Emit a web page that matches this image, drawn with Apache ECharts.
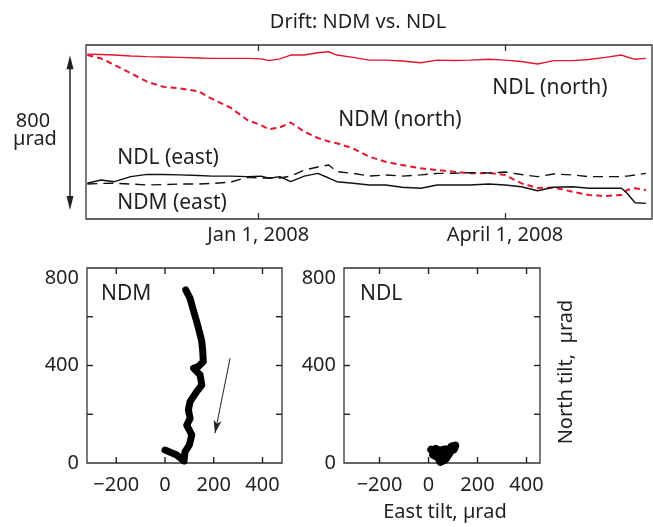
<!DOCTYPE html>
<html>
<head>
<meta charset="utf-8">
<script src="https://cdn.jsdelivr.net/npm/echarts@6/dist/echarts.min.js"></script>
<style>
html,body{margin:0;padding:0;background:#fff;}
#c{width:653px;height:527px;}
</style>
</head>
<body>
<div id="c"></div>
<script>
// ---- Top panel: drift time series (µrad, arbitrary vertical offsets) ----
const dates = ['2007-10-30','2007-11-04','2007-11-09','2007-11-15','2007-11-21','2007-11-27','2007-12-03','2007-12-10','2007-12-15','2007-12-22','2007-12-28','2008-01-02','2008-01-05','2008-01-09','2008-01-13','2008-01-18','2008-01-23','2008-01-27','2008-01-30','2008-02-05','2008-02-11','2008-02-17','2008-02-23','2008-03-01','2008-03-07','2008-03-13','2008-03-19','2008-03-26','2008-04-01','2008-04-07','2008-04-13','2008-04-19','2008-04-26','2008-05-02','2008-05-08','2008-05-14','2008-05-16','2008-05-19','2008-05-23'];
const ndlNorth = [853,851,848,843,840,838,836,833,831,831,831,828,819,828,848,848,860,865,848,836,822,822,817,808,822,820,822,826,822,815,802,819,819,825,836,848,838,826,831];
const ndmNorth = [848,831,797,754,710,684,676,660,621,574,512,486,464,474,499,452,419,401,392,365,322,296,279,262,253,245,236,238,228,185,160,163,141,124,119,124,150,159,150];
const ndlEast = [185,202,193,219,231,230,228,225,222,222,219,222,211,219,193,222,236,212,193,185,176,176,164,159,176,176,176,181,176,167,146,164,167,159,159,159,133,84,81];
const ndmEast = [181,184,185,181,176,178,181,181,184,191,216,212,212,212,222,253,269,279,245,236,222,228,222,228,236,236,240,238,243,230,219,233,228,219,219,219,222,228,236];
const tickDates = ['2008-01-01','2008-04-01'];
const tickLabels = ['Jan 1, 2008','April 1, 2008'];
const scaleBar = [47, 847]; // 800 µrad scale arrow

// ---- Bottom panels: north vs east tilt (µrad) ----
const tiltTicksX = [-200, 0, 200, 400];
const tiltTicksY = [0, 200, 400, 600, 800];
const ndmEastTilt  = [85,103,116,130,141,151,155,157,137,117,144,151,130,103,96,103,89,110,100,82,78,48,0];
const ndmNorthTilt = [710,675,628,580,539,498,457,416,396,389,361,320,293,252,218,183,155,115,74,46,8,33,53];
const ndlEastTilt  = [11,31,19,40,48,68,89,93,109,103,64,44,30,48,58];
const ndlNorthTilt = [55,46,34,22,5,14,46,67,71,55,55,50,58,22,35];
const driftArrowFrom = [267, 430];
const driftArrowTo = [205, 122];

const FONT = '"Noto Sans", "Open Sans", sans-serif';
const TXT = '#231f20';
const RED = '#e3152f';
const BLK = '#111111';

const toTs = s => Date.UTC(+s.slice(0, 4), +s.slice(5, 7) - 1, +s.slice(8, 10));
const HOUR = 3600e3;
const tickTs = tickDates.map(toTs);
const pairs = (xs, ys) => xs.map((x, i) => [x, ys[i]]);
const minusFmt = v => String(v).replace('-', '\u2212');

const chart = echarts.init(document.getElementById('c'), null, {renderer: 'canvas'});

const tickCommon = {show: true, inside: true, length: 6, lineStyle: {color: '#333', width: 1.3}};
const gridCommon = {show: true, borderColor: '#333', borderWidth: 1.3, backgroundColor: 'transparent', containLabel: false};
const noLine = {show: false, onZero: false};

const tiltRange = [[-320, 480], [-345, 455]];

function tiltXAxis(grid, range) {
  return {
    type: 'value', gridIndex: grid, min: range[0], max: range[1], position: 'bottom',
    axisLine: noLine, splitLine: {show: false}, axisTick: {show: false},
    axisLabel: {show: true, customValues: tiltTicksX, formatter: minusFmt, color: TXT, fontSize: 20, fontFamily: FONT, margin: 12}
  };
}
function tiltYAxis(grid) {
  return {
    type: 'value', gridIndex: grid, min: 0, max: 800, interval: 200, position: 'left',
    axisLine: noLine, splitLine: {show: false}, axisTick: {show: false},
    axisLabel: {show: true, formatter: v => (v % 400 === 0 ? String(v) : ''), color: TXT, fontSize: 20, fontFamily: FONT, margin: 8, verticalAlignMaxLabel: 'top'}
  };
}
const timeXAxis = pos => ({
  type: 'value', gridIndex: 0, position: pos,
  min: toTs('2007-10-29') + 12 * HOUR, max: toTs('2008-05-25') + 5 * HOUR,
  axisLine: noLine, splitLine: {show: false},
  axisTick: Object.assign({}, tickCommon, {customValues: tickTs}),
  axisLabel: pos === 'bottom' ? {
    show: true, customValues: tickTs, color: TXT, fontSize: 20, fontFamily: FONT, margin: 6,
    formatter: v => { const i = tickTs.indexOf(v); return i >= 0 ? tickLabels[i] : ''; }
  } : {show: false}
});

const text = (t, x, y, extra, size) => Object.assign({
  type: 'text', x: x, y: y, silent: true,
  style: {text: t, fill: TXT, font: (size || 20) + 'px ' + FONT, align: 'center', verticalAlign: 'middle'}
}, extra || {});

const lineSeries = (name, data, color, type, width, xi, yi) => ({
  name: name, type: 'line', xAxisIndex: xi, yAxisIndex: yi, data: data,
  showSymbol: false, symbol: 'none', smooth: false, silent: true,
  lineStyle: {color: color, width: width, type: type, cap: 'butt'}
});

chart.setOption({
  animation: false,
  grid: [
    Object.assign({left: 86, top: 45, width: 566, height: 174}, gridCommon),
    Object.assign({left: 87, top: 268, width: 195, height: 195}, gridCommon),
    Object.assign({left: 344, top: 268, width: 196, height: 195}, gridCommon)
  ],
  xAxis: [
    timeXAxis('bottom'), timeXAxis('top'),
    tiltXAxis(1, tiltRange[0]), tiltXAxis(2, tiltRange[1])
  ],
  yAxis: [
    {type: 'value', gridIndex: 0, min: 0, max: 900, show: false},
    tiltYAxis(1), tiltYAxis(2)
  ],
  series: [
    lineSeries('NDL (north)', pairs(dates.map(toTs), ndlNorth), RED, 'solid', 1.4, 0, 0),
    lineSeries('NDM (north)', pairs(dates.map(toTs), ndmNorth), RED, [6, 4], 2, 0, 0),
    lineSeries('NDL (east)', pairs(dates.map(toTs), ndlEast), BLK, 'solid', 1.4, 0, 0),
    lineSeries('NDM (east)', pairs(dates.map(toTs), ndmEast), BLK, [10, 6], 1.4, 0, 0),
    Object.assign(lineSeries('NDM tilt', pairs(ndmEastTilt, ndmNorthTilt), '#000', 'solid', 7, 2, 1), {
      lineStyle: {color: '#000', width: 7, cap: 'round', join: 'round'},
      markLine: {
        silent: true, animation: false,
        lineStyle: {color: '#222', width: 1, type: 'solid'},
        label: {show: false},
        data: [[{coord: driftArrowFrom, symbol: 'none'}, {coord: driftArrowTo, symbol: 'arrow', symbolSize: [6, 13]}]]
      }
    }),
    Object.assign(lineSeries('NDL tilt', pairs(ndlEastTilt, ndlNorthTilt), '#000', 'solid', 8, 3, 2), {
      lineStyle: {color: '#000', width: 8, cap: 'round', join: 'round'}
    })
  ]
});

// Box ticks for the tilt panels (all four sides, pointing inward), placed via the axes' scales
const tickGraphics = [];
const TL = 6;
[[2, 1, tiltRange[0]], [3, 2, tiltRange[1]]].forEach(([xi, yi, rng]) => {
  const px = v => chart.convertToPixel({xAxisIndex: xi}, v);
  const py = v => chart.convertToPixel({yAxisIndex: yi}, v);
  const L = px(rng[0]), R = px(rng[1]), T = py(800), B = py(0);
  const seg = (x1, y1, x2, y2) => tickGraphics.push({type: 'line', silent: true, z: 100,
    shape: {x1: x1, y1: y1, x2: x2, y2: y2}, style: {stroke: '#222', lineWidth: 1.4}});
  tiltTicksX.forEach(v => { const x = px(v); seg(x, B, x, B - TL); seg(x, T, x, T + TL); });
  tiltTicksY.slice(1, -1).forEach(v => { const y = py(v); seg(L, y, L + TL, y); seg(R, y, R - TL, y); });
});

// Annotations (text + scale arrow)
const yTop = chart.convertToPixel({yAxisIndex: 0}, scaleBar[1]);
const yBot = chart.convertToPixel({yAxisIndex: 0}, scaleBar[0]);
const ax = 70;
chart.setOption({
  graphic: tickGraphics.concat([
    text('Drift: NDM vs. NDL', 358, 22),
    text('NDL (north)', 550, 88, null, 21),
    text('NDM (north)', 400, 120, null, 21),
    text('NDL (east)', 168, 158, null, 21),
    text('NDM (east)', 172, 203, null, 21),
    text('800', 33, 121),
    text('\u00b5rad', 35, 139),
    {type: 'text', x: 101, y: 294, silent: true, style: {text: 'NDM', fill: TXT, font: '21px ' + FONT, align: 'left', verticalAlign: 'middle'}},
    {type: 'text', x: 360, y: 294, silent: true, style: {text: 'NDL', fill: TXT, font: '21px ' + FONT, align: 'left', verticalAlign: 'middle'}},
    text('East tilt, \u00b5rad', 445, 512),
    text('North tilt,  \u00b5rad', 566, 372, {rotation: Math.PI / 2}),
    {type: 'line', silent: true, shape: {x1: ax, y1: yTop + 10, x2: ax, y2: yBot - 10}, style: {stroke: '#222', lineWidth: 1.5}},
    {type: 'polygon', silent: true, shape: {points: [[ax, yTop], [ax - 3.5, yTop + 14], [ax + 3.5, yTop + 14]]}, style: {fill: '#222'}},
    {type: 'polygon', silent: true, shape: {points: [[ax, yBot], [ax - 3.5, yBot - 14], [ax + 3.5, yBot - 14]]}, style: {fill: '#222'}}
  ])
});
</script>
</body>
</html>
